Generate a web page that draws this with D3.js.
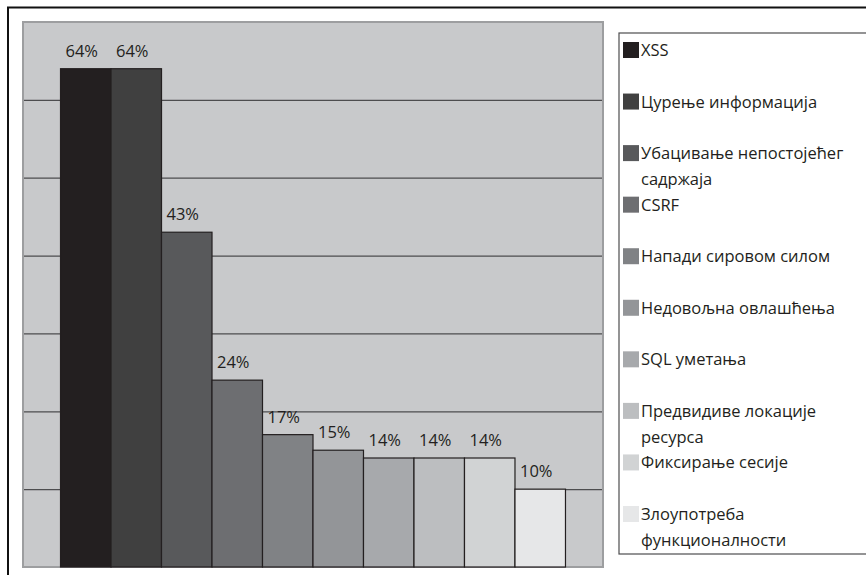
<!DOCTYPE html>
<html>
<head>
<meta charset="utf-8">
<script src="https://cdn.jsdelivr.net/npm/d3@7"></script>
<style>
  html, body { margin: 0; padding: 0; background: #ffffff; }
  svg { display: block; }
  text { font-family: "Open Sans", "Noto Sans", sans-serif; fill: #231f20; }
</style>
</head>
<body>
<svg id="chart" width="866" height="575"></svg>
<script>
// Share of sites affected, by vulnerability type (%)
const categories = [
  "XSS",
  "Цурење информација",
  "Убацивање непостојећег садржаја",
  "CSRF",
  "Напади сировом силом",
  "Недовољна овлашћења",
  "SQL уметања",
  "Предвидиве локације ресурса",
  "Фиксирање сесије",
  "Злоупотреба функционалности"
];
const values = [64, 64, 43, 24, 17, 15, 14, 14, 14, 10];
const yTicks = [10, 20, 30, 40, 50, 60];
const colors = ["#231f20", "#404040", "#58595b", "#6d6e71", "#808285",
                "#939598", "#a7a9ac", "#bcbec0", "#d1d3d4", "#e6e7e8"];

const svg = d3.select("#chart");
const W = 866, H = 575;
const fontSize = 16.5;

// outer frame (extends past the right and bottom edges)
svg.append("rect")
  .attr("x", 8).attr("y", 7.5)
  .attr("width", W + 20).attr("height", H + 20)
  .attr("fill", "#ffffff").attr("stroke", "#111111").attr("stroke-width", 2);

// plot area
const plot = { left: 23, top: 22, right: 603, bottom: 567 };

const x = d3.scaleBand()
  .domain(categories)
  .range([plot.left, plot.right])
  .paddingInner(0)
  .paddingOuter(0.743);

const y = d3.scaleLinear()
  .domain([0, 70])
  .range([plot.bottom, plot.top]);

const color = d3.scaleOrdinal().domain(categories).range(colors);

svg.append("rect")
  .attr("x", plot.left).attr("y", plot.top)
  .attr("width", plot.right - plot.left).attr("height", plot.bottom - plot.top)
  .attr("fill", "#c8c9cb");

// horizontal gridlines via a y axis with full-width ticks
const grid = svg.append("g")
  .attr("transform", `translate(${plot.left},0)`)
  .call(d3.axisRight(y).tickValues(yTicks).tickSize(plot.right - plot.left).tickFormat(""));
grid.select(".domain").remove();
grid.selectAll(".tick line").attr("stroke", "#4d4d4f").attr("stroke-width", 1.3);

// plot border
svg.append("rect")
  .attr("x", plot.left).attr("y", plot.top)
  .attr("width", plot.right - plot.left).attr("height", plot.bottom - plot.top)
  .attr("fill", "none").attr("stroke", "#9d9ea0").attr("stroke-width", 2);

// bars
svg.append("g").selectAll("rect")
  .data(categories)
  .join("rect")
  .attr("x", d => x(d))
  .attr("y", (d, i) => y(values[i]))
  .attr("width", x.bandwidth())
  .attr("height", (d, i) => y(0) - y(values[i]))
  .attr("fill", d => color(d))
  .attr("stroke", "#231f20")
  .attr("stroke-width", 1.2);

// value labels
svg.append("g").selectAll("text")
  .data(categories)
  .join("text")
  .attr("x", d => x(d) + x.bandwidth() / 2 - 4)
  .attr("y", (d, i) => y(values[i]) - 12)
  .attr("text-anchor", "middle")
  .attr("font-size", fontSize)
  .text((d, i) => values[i] + "%");

// legend
const legend = { left: 619, top: 33, bottom: 554 };
svg.append("rect")
  .attr("x", legend.left).attr("y", legend.top)
  .attr("width", W - legend.left + 20).attr("height", legend.bottom - legend.top)
  .attr("fill", "#ffffff").attr("stroke", "#4d4d4f").attr("stroke-width", 1.2);

const ly = d3.scalePoint()
  .domain(categories)
  .range([legend.top + 17, legend.bottom - 40]);

const items = svg.append("g").selectAll("g")
  .data(categories)
  .join("g")
  .attr("transform", d => `translate(${legend.left + 4},${ly(d)})`);

items.append("rect")
  .attr("x", 0).attr("y", -8)
  .attr("width", 16).attr("height", 16)
  .attr("fill", d => color(d));

// wrap long legend entries onto a second line
const maxTextWidth = 205;
items.each(function (d) {
  const t = d3.select(this).append("text")
    .attr("x", 18).attr("y", 6)
    .attr("font-size", fontSize);
  const words = d.split(" ");
  let line = [];
  let tspan = t.append("tspan").attr("x", 18).attr("dy", 0);
  words.forEach(w => {
    line.push(w);
    tspan.text(line.join(" "));
    if (tspan.node().getComputedTextLength() > maxTextWidth && line.length > 1) {
      line.pop();
      tspan.text(line.join(" "));
      line = [w];
      tspan = t.append("tspan").attr("x", 18).attr("dy", 26).text(w);
    }
  });
});
</script>
</body>
</html>
